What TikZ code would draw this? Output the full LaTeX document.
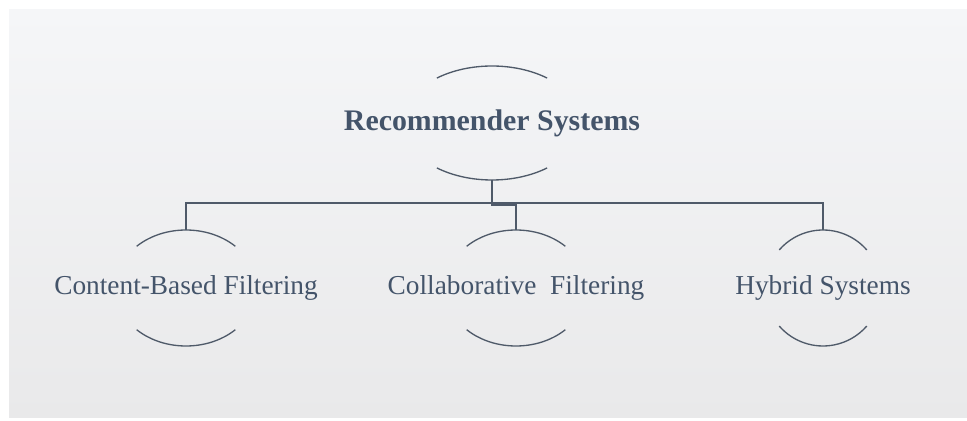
\documentclass[tikz,border=0pt]{standalone}
\usepackage{fontspec}
\setmainfont{Liberation Serif}
\usetikzlibrary{shapes.geometric}
\definecolor{txtcol}{HTML}{44546A}
\definecolor{linecol}{HTML}{4F5A69}
\definecolor{bgtop}{HTML}{F5F6F8}
\definecolor{bgbot}{HTML}{E9E9EA}

\begin{document}
\begin{tikzpicture}[
            x=0.75pt, y=0.75pt,
            ring/.style 2 args={ellipse, minimum width=2*#1*0.75pt, minimum height=2*#2*0.75pt, inner sep=0pt, outer sep=0pt},
            caption/.style={text=txtcol, font=\fontsize{20.5pt}{24pt}\selectfont},
            rootcaption/.style={text=txtcol, font=\fontsize{22.4pt}{26pt}\selectfont\bfseries},
            arcline/.style={draw=linecol, line width=1pt},
            link/.style={draw=linecol, line width=1.3pt}
        ]
        \useasboundingbox (0,0) rectangle (967,421);
        \fill[top color=bgtop, bottom color=bgbot] (9,3) rectangle (967,411);
        \node[ring={89.6}{57}, label={[rootcaption]center:Recommender Systems}] (rec) at (492,298) {};
        \node[ring={71}{58}, label={[caption]center:Content-Based Filtering}] (cbf) at (186,133) {};
        \node[ring={71}{58}, label={[caption]center:Collaborative\ \ Filtering}] (cf) at (516,133) {};
        \node[ring={58}{58}, label={[caption]center:Hybrid Systems}] (hyb) at (823,133) {};
        % Top and bottom arcs round each node
        \foreach \n/\a/\b/\t in {rec/89.6/57/52, cbf/71/58/46, cf/71/58/46, hyb/58/58/41} {
            \draw[arcline] (\n.center) ++(\t:\a\space and \b) arc[start angle=\t, end angle=180-\t, x radius=\a*0.75pt, y radius=\b*0.75pt];
            \draw[arcline] (\n.center) ++(180+\t:\a\space and \b) arc[start angle=180+\t, end angle=360-\t, x radius=\a*0.75pt, y radius=\b*0.75pt];
        }
        % Elbow connectors
        \foreach \c in {cbf, hyb}
            \draw[link] (rec.south) -- ++(0,-23) -| (\c.north);
        \draw[link] (rec.south) -- ++(0,-25) -| (cf.north);
        \end{tikzpicture}
\end{document}
